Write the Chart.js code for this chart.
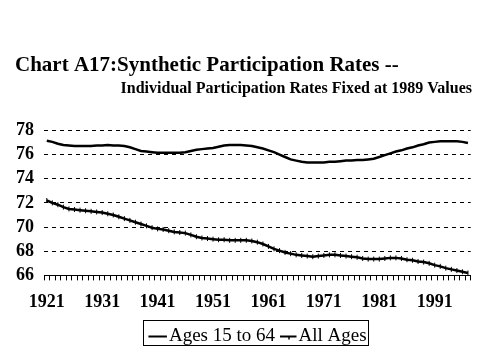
<!DOCTYPE html>
<html>
<head>
<meta charset="utf-8">
<script src="https://cdn.jsdelivr.net/npm/chart.js@4.4.1/dist/chart.umd.min.js"></script>
<style>
  html, body { margin: 0; padding: 0; background: #fff; }
  #wrap { width: 479px; height: 359px; }
</style>
</head>
<body>
<div id="wrap"><canvas id="carta"></canvas></div>
<script>
// years 1921 .. 1997
const years = []
for (let y = 1921; y <= 1997; y++) years.push(String(y))

const yTicks = [66, 68, 70, 72, 74, 76, 78]

// Ages 15 to 64
const ages15to64 = [
  77.15, 77.05, 76.9, 76.8, 76.75, 76.7, 76.7, 76.7, 76.7, 76.75,
  76.75, 76.8, 76.75, 76.75, 76.7, 76.6, 76.45, 76.3, 76.25, 76.2,
  76.15, 76.15, 76.15, 76.15, 76.15, 76.2, 76.3, 76.4, 76.45, 76.5,
  76.55, 76.65, 76.75, 76.8, 76.8, 76.8, 76.75, 76.7, 76.6, 76.5,
  76.35, 76.2, 76.0, 75.8, 75.6, 75.5, 75.4, 75.35, 75.35, 75.35,
  75.35, 75.4, 75.4, 75.45, 75.5, 75.5, 75.55, 75.55, 75.6, 75.65,
  75.8, 75.95, 76.1, 76.25, 76.35, 76.5, 76.6, 76.75, 76.85, 77.0,
  77.05, 77.1, 77.1, 77.1, 77.1, 77.05, 76.95
]

// All Ages
const allAges = [
  72.2, 72.0, 71.85, 71.65, 71.5, 71.45, 71.4, 71.35, 71.3, 71.25,
  71.2, 71.1, 71.0, 70.85, 70.7, 70.55, 70.4, 70.25, 70.1, 69.95,
  69.85, 69.8, 69.7, 69.6, 69.55, 69.5, 69.35, 69.2, 69.1, 69.05,
  69.0, 68.95, 68.95, 68.9, 68.9, 68.9, 68.9, 68.85, 68.75, 68.6,
  68.4, 68.2, 68.05, 67.9, 67.8, 67.7, 67.65, 67.6, 67.55, 67.6,
  67.65, 67.7, 67.7, 67.65, 67.6, 67.55, 67.5, 67.4, 67.35, 67.35,
  67.35, 67.4, 67.45, 67.45, 67.4, 67.3, 67.25, 67.15, 67.1, 67.0,
  66.85, 66.75, 66.6, 66.5, 66.4, 66.3, 66.2
]

const serif = "'Liberation Serif', 'Times New Roman', serif"

// legend: shifted a bit right, samples drawn close to the text, frame round it
const legendShift = 14
const legendFrame = {
  id: "legendFrame",
  afterLayout(chart) {
    if (!chart.legend) return
    chart.legend.left += legendShift
    chart.legend.right += legendShift
  },
  afterDraw(chart) {
    const boxes = chart.legend && chart.legend.legendHitBoxes
    if (!boxes || !boxes.length) return
    const ctx = chart.ctx
    ctx.save()
    ctx.strokeStyle = "#000"
    // sample lines
    boxes.forEach((b, i) => {
      const cy = Math.round(b.top + b.height / 2) - 0.5
      const sx = b.left + (i === 1 ? 2 : 0)
      ctx.lineWidth = 2
      ctx.beginPath()
      ctx.moveTo(sx, cy)
      ctx.lineTo(b.left + 18.5, cy)
      ctx.stroke()
      if (i === 1) {
        ctx.lineWidth = 1.5
        ctx.beginPath()
        ctx.moveTo(b.left + 11, cy)
        ctx.lineTo(b.left + 11, cy + 3)
        ctx.stroke()
      }
    })
    let x1 = Infinity, x2 = -Infinity, y1 = Infinity, y2 = -Infinity
    boxes.forEach(b => {
      x1 = Math.min(x1, b.left); x2 = Math.max(x2, b.left + b.width)
      y1 = Math.min(y1, b.top); y2 = Math.max(y2, b.top + b.height)
    })
    ctx.lineWidth = 1
    ctx.strokeRect(Math.round(x1 - 5) + 0.5, Math.round(y1 - 7) + 0.5, Math.round(x2 - x1 + 7), Math.round(y2 - y1 + 6))
    ctx.restore()
  }
}

new Chart(document.getElementById("carta"), {
  type: "line",
  data: {
    labels: years,
    datasets: [{
      label: "Ages 15 to 64",
      data: ages15to64,
      borderColor: "#000",
      backgroundColor: "#000",
      borderWidth: 2.5,
      pointRadius: 0,
      pointStyle: "line"
    }, {
      label: "All Ages",
      data: allAges,
      borderColor: "#000",
      backgroundColor: "#000",
      borderWidth: 2.5,
      pointStyle: "line",
      pointRotation: 90,
      pointRadius: 2.5,
      pointBorderWidth: 1
    }]
  },
  options: {
    responsive: true,
    maintainAspectRatio: false,
    animation: false,
    layout: { padding: { left: 15, right: 7, bottom: 3, top: 0 } },
    plugins: {
      title: {
        display: true,
        text: "Chart A17:Synthetic Participation Rates --",
        align: "start",
        color: "#000",
        font: { family: serif, size: 21, weight: "bold" },
        padding: { top: 53, bottom: 1 }
      },
      subtitle: {
        display: true,
        text: "Individual Participation Rates Fixed at 1989 Values",
        align: "end",
        color: "#000",
        font: { family: serif, size: 16, weight: "bold" },
        padding: { top: 0, bottom: 32 }
      },
      legend: {
        position: "bottom",
        labels: {
          color: "#000",
          font: { family: serif, size: 19 },
          usePointStyle: true,
          pointStyleWidth: 11,
          padding: 3,
          generateLabels(chart) {
            const items = Chart.defaults.plugins.legend.labels.generateLabels(chart)
            items.forEach(it => {
              it.pointStyle = "line"
              it.rotation = 0
              it.strokeStyle = "rgba(0,0,0,0)"
              it.fillStyle = "rgba(0,0,0,0)"
            })
            return items
          }
        }
      },
      tooltip: { enabled: false }
    },
    scales: {
      x: {
        offset: true,
        border: { display: true, color: "#000", width: 1 },
        grid: { display: true, drawOnChartArea: false, drawTicks: true, tickLength: 5, color: "#000", offset: true },
        ticks: {
          color: "#000",
          font: { family: serif, size: 18, weight: "bold" },
          autoSkip: false,
          maxRotation: 0,
          padding: 11,
          callback(value, index) {
            const lab = this.getLabelForValue(value)
            return (Number(lab) - 1921) % 10 === 0 ? lab : ""
          }
        }
      },
      y: {
        min: 66,
        max: 78,
        afterFit(scale) { scale.width = 29 },
        border: { display: false, dash: [4, 4] },
        grid: { color: "#000", lineWidth: 1, drawTicks: false },
        ticks: {
          stepSize: 2,
          autoSkip: false,
          color: "#000",
          padding: 10,
          font: { family: serif, size: 18, weight: "bold" },
          callback: (v) => yTicks.includes(v) ? v : ""
        }
      }
    }
  },
  plugins: [legendFrame]
})
</script>
</body>
</html>
